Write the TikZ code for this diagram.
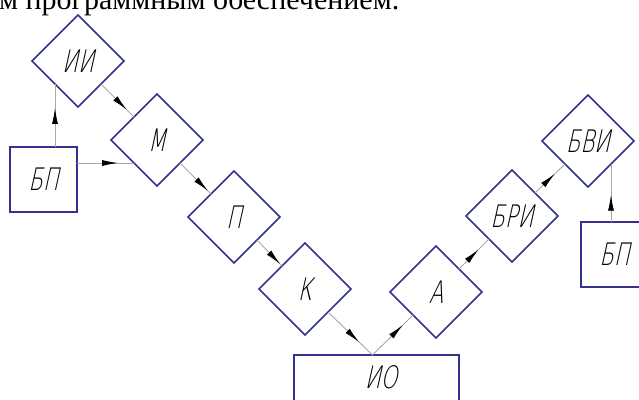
\documentclass[tikz,border=0pt]{standalone}
\usepackage{fontspec}
\setmainfont{Liberation Serif}
\newfontfamily\gostfont{DejaVu Sans ExtraLight}[FakeSlant=0.22,FakeStretch=0.68]
\usetikzlibrary{shapes.geometric,arrows.meta,decorations.markings}
\definecolor{navy}{HTML}{33338F}
\definecolor{linegray}{HTML}{A8A8A8}
\begin{document}
\begin{tikzpicture}[x=1pt,y=-1pt,
  dia/.style={diamond, draw=navy, line width=1.5pt, minimum size=92pt, inner sep=0pt, outer sep=0pt, shape aspect=1, font=\gostfont\fontsize{31}{31}\selectfont},
  blk/.style={rectangle, draw=navy, line width=1.5pt, inner sep=0pt, outer sep=0pt, font=\gostfont\fontsize{31}{31}\selectfont},
  lbl/.style={inner sep=0pt, font=\gostfont\fontsize{31}{31}\selectfont},
  conn/.style={draw=linegray, line width=0.9pt, postaction={decorate},
    decoration={markings, mark=at position #1 with {\arrow{Latex[length=16pt,width=6pt,color=black]}}}}
]
\useasboundingbox (0,0) rectangle (639,399);
\node[anchor=base west, inner sep=0pt, font=\fontsize{30}{30}\selectfont] (cap) at (-1,9.5) {м программным обеспечением.};

\node[dia] (ii) at (78,61) {ИИ};
\node[dia] (m) at (157,140) {М};
\node[dia] (p) at (234,217) {П};
\node[dia] (k) at (305,289) {К};
\node[dia] (a) at (436,292) {А};
\node[dia] (bri) at (512,216) {БРИ};
\node[dia] (bvi) at (588,141) {БВИ};
\node[blk, minimum width=67pt, minimum height=65pt] (bp1) at (43.5,179.5) {БП};
\node[blk, minimum width=67pt, minimum height=65pt] (bp2) at (614.5,254.5) {БП};
\node[blk, minimum width=165pt, minimum height=60pt, anchor=north] (io) at (376.5,355) {};
\node[lbl] (iot) at (381,377) {ИО};
\coordinate (iotop) at ([xshift=-4pt]io.north);

\draw[conn=0.62] (ii.south west |- bp1.north) -- (ii.south west);
\draw[conn=0.72] (bp1.east |- m.south west) -- (m.south west);
\draw[conn=0.78] (ii.south east) -- (m.north west);
\draw[conn=0.9] (m.south east) -- (p.north west);
\draw[conn=0.93] (p.south east) -- (k.north west);
\draw[conn=0.7] (k.south east) -- (iotop);
\draw[conn=0.75] (iotop) -- (a.south west);
\draw[conn=0.65] (a.north east) -- (bri.south west);
\draw[conn=0.66] (bri.north east) -- (bvi.south west);
\draw[conn=0.47] (bvi.south east |- bp2.north) -- (bvi.south east);
\end{tikzpicture}
\end{document}
